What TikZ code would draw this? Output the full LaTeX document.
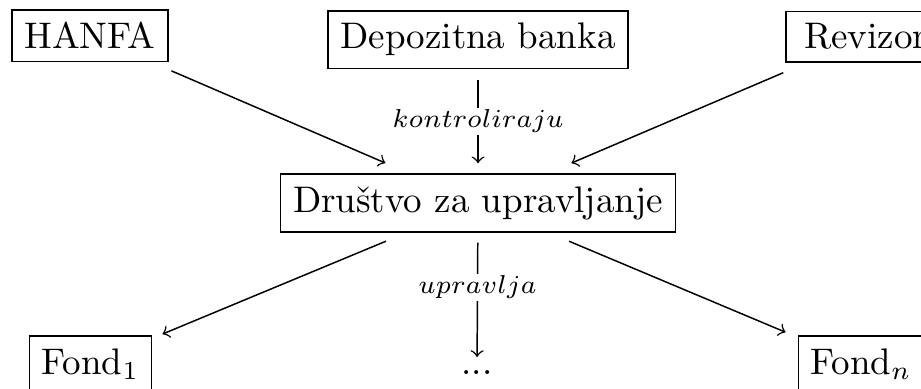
\documentclass[tikz,border=0pt]{standalone}
\usepackage{tikz}
\begin{document}
\begin{tikzpicture}[x=0.27027pt,y=-0.27027pt,
  box/.style={draw=black,inner sep=3.33pt,anchor=base},
  arr/.style 2 args={->,shorten <=#1,shorten >=#2},
  lbl/.style={fill=white,inner sep=0.6pt}]

%FRAME
\useasboundingbox (0,0) rectangle (921,388);
\clip (0,0) rectangle (921,388);
%FRAME

\node[box](v1) at (90,49) {HANFA};
\node[box](v2) at (478,49) {Depozitna banka};
\node[box,inner xsep=4.95pt,text width=34.2pt,align=left](v3) at (867.5,49) {Revizor};
\node[box](v4) at (478,212) {Društvo za upravljanje};
\node[box](v5) at (90.5,374) {Fond$_1$};
\node[anchor=base](v6) at (477,374) {...};
\node[box](v7) at (861,374) {Fond$_n$};

\draw[arr={6pt}{7pt}] (v1) -- (v4);
\draw[arr={3pt}{2.7pt}] (v2) -- node[lbl]{$\scriptstyle kontroliraju$} (v4);
\draw[arr={6.8pt}{7pt}] (v3) -- (v4);

\draw[arr={6pt}{3pt}] (v4) -- (v5);
\draw[arr={2.7pt}{0pt}] (v4) -- node[lbl,pos=0.44]{$\scriptstyle upravlja$} (v6);
\draw[arr={6pt}{3.5pt}] (v4) -- (v7);

\end{tikzpicture}
\end{document}
